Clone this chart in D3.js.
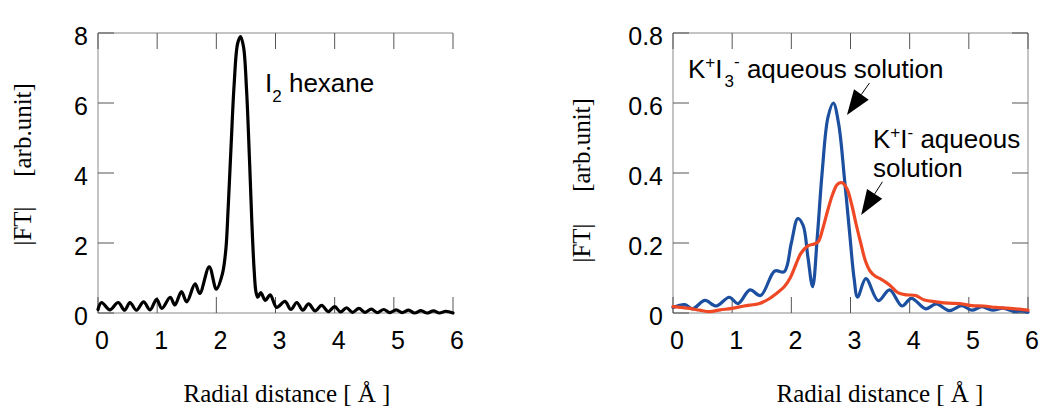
<!DOCTYPE html>
<html>
<head>
<meta charset="UTF-8">
<title>FT radial distance</title>
<style>
body { margin: 0; background: #fff; }
.frame { fill: none; stroke: #888; stroke-width: 1; }
.tick { stroke: #555; stroke-width: 1; }
.ticklabel { font-family: "Liberation Sans", Arial, sans-serif; font-size: 25px; fill: #000; }
.note { font-family: "Liberation Sans", Arial, sans-serif; font-size: 26px; fill: #000; }
.title { font-family: "Liberation Serif", "Times New Roman", serif; font-size: 25px; fill: #000; }
.curve { fill: none; stroke-width: 3.2; stroke-linejoin: round; stroke-linecap: round; }
</style>
</head>
<body>
<div id="chart"></div>
<script src="https://cdn.jsdelivr.net/npm/d3@7"></script>
<script>
// ---- data ----
var xTicks = [0, 1, 2, 3, 4, 5, 6];
var leftYTicks = [0, 2, 4, 6, 8];
var rightYTicks = [0, 0.2, 0.4, 0.6, 0.8];
var rightYTickLabels = ["0", "0.2", "0.4", "0.6", "0.8"];

// I2 in hexane
var hexaneR = [0.00, 0.06, 0.20, 0.34, 0.45, 0.54, 0.65, 0.77, 0.88, 0.99, 1.08, 1.22, 1.30, 1.41, 1.50,
  1.64, 1.72, 1.88, 2.00, 2.10, 2.16, 2.20, 2.25, 2.30, 2.36, 2.41, 2.46, 2.51, 2.56, 2.60, 2.64, 2.67, 2.70,
  2.75, 2.83, 2.91, 3.02, 3.16, 3.26, 3.36, 3.46, 3.56, 3.67, 3.78, 3.89, 4.00, 4.10, 4.20, 4.30, 4.41, 4.51,
  4.62, 4.72, 4.83, 4.93, 5.04, 5.14, 5.25, 5.35, 5.46, 5.56, 5.67, 5.77, 5.88, 6.00];
var hexaneFT = [0.10, 0.30, 0.09, 0.30, 0.08, 0.30, 0.08, 0.32, 0.09, 0.39, 0.13, 0.45, 0.23, 0.61, 0.32,
  0.83, 0.56, 1.32, 0.68, 1.10, 1.80, 3.00, 4.80, 6.50, 7.70, 7.90, 7.60, 6.40, 4.40, 2.60, 1.20, 0.60, 0.45,
  0.58, 0.36, 0.52, 0.16, 0.33, 0.10, 0.30, 0.08, 0.26, 0.06, 0.22, 0.04, 0.18, 0.03, 0.15, 0.02, 0.13, 0.02,
  0.11, 0.01, 0.10, 0.01, 0.09, 0.01, 0.08, 0.00, 0.07, 0.00, 0.06, 0.00, 0.05, 0.00];

// K+I3- aqueous solution
var triiodideR = [0.00, 0.20, 0.33, 0.54, 0.73, 0.95, 1.10, 1.30, 1.48, 1.72, 1.88, 2.00, 2.11, 2.20, 2.28,
  2.36, 2.44, 2.52, 2.62, 2.71, 2.80, 2.90, 2.99, 3.06, 3.12, 3.26, 3.47, 3.66, 3.87, 4.03, 4.27, 4.45, 4.67,
  4.88, 5.05, 5.22, 5.40, 5.58, 5.75, 5.90, 6.00];
var triiodideFT = [0.016, 0.024, 0.012, 0.036, 0.020, 0.045, 0.027, 0.066, 0.050, 0.120, 0.118, 0.200, 0.270,
  0.250, 0.160, 0.075, 0.220, 0.400, 0.560, 0.600, 0.540, 0.380, 0.220, 0.100, 0.045, 0.098, 0.035, 0.066,
  0.020, 0.042, 0.012, 0.026, 0.007, 0.021, 0.008, 0.018, 0.008, 0.014, 0.005, 0.006, 0.002];

// K+I- aqueous solution
var iodideR = [0.00, 0.28, 0.45, 0.62, 0.80, 1.00, 1.20, 1.46, 1.62, 1.75, 1.88, 1.98, 2.08, 2.16, 2.28, 2.40,
  2.46, 2.53, 2.61, 2.70, 2.78, 2.86, 2.94, 3.02, 3.10, 3.18, 3.25, 3.33, 3.42, 3.50, 3.66, 3.80, 3.95, 4.10,
  4.25, 4.45, 4.65, 4.85, 5.05, 5.25, 5.45, 5.65, 5.85, 6.00];
var iodideFT = [0.018, 0.013, 0.008, 0.004, 0.009, 0.013, 0.020, 0.027, 0.040, 0.056, 0.075, 0.100, 0.140,
  0.170, 0.192, 0.198, 0.205, 0.240, 0.290, 0.340, 0.368, 0.372, 0.355, 0.310, 0.250, 0.195, 0.150, 0.120,
  0.105, 0.098, 0.080, 0.058, 0.052, 0.050, 0.037, 0.032, 0.028, 0.027, 0.021, 0.020, 0.016, 0.014, 0.011, 0.008];

function pairs(xs, ys) { return xs.map(function (x, i) { return [x, ys[i]]; }); }

var width = 1043, height = 408;
var svg = d3.select("#chart").append("svg")
  .attr("width", width).attr("height", height);

function drawPanel(p) {
  var x = d3.scaleLinear().domain([0, 6]).range([p.left, p.left + 355]);
  var y = d3.scaleLinear().domain(p.yDomain).range([313, 33]);
  var g = svg.append("g");
  var tl = 16;
  var xa = x(0), xb = x(6), ya = y.range()[0], yb = y.range()[1];

  // frame: left, bottom, top always; right side only when asked
  var fr = "M" + xb + "," + yb + "L" + xa + "," + yb + "L" + xa + "," + ya + "L" + xb + "," + ya;
  if (p.rightFrame) fr += "Z";
  g.append("path").attr("class", "frame").attr("d", fr);

  // x ticks bottom and top (inward)
  xTicks.forEach(function (t) {
    g.append("line").attr("class", "tick")
      .attr("x1", x(t)).attr("x2", x(t)).attr("y1", ya).attr("y2", ya - tl);
    g.append("line").attr("class", "tick")
      .attr("x1", x(t)).attr("x2", x(t)).attr("y1", yb).attr("y2", yb + tl);
    g.append("text").attr("class", "ticklabel")
      .attr("x", x(t) + 4).attr("y", 349).attr("text-anchor", "middle").text(t);
  });
  // y ticks left (and right) (inward)
  p.yTicks.forEach(function (t, i) {
    g.append("line").attr("class", "tick")
      .attr("x1", xa).attr("x2", xa + tl).attr("y1", y(t)).attr("y2", y(t));
    if (p.rightFrame) {
      g.append("line").attr("class", "tick")
        .attr("x1", xb).attr("x2", xb - tl).attr("y1", y(t)).attr("y2", y(t));
    }
    g.append("text").attr("class", "ticklabel")
      .attr("x", xa - 10).attr("y", y(t) + 4).attr("dy", "0.32em")
      .attr("text-anchor", "end").text(p.yLabels[i]);
  });

  // curves
  var line = d3.line()
    .x(function (d) { return x(d[0]); })
    .y(function (d) { return y(d[1]); })
    .curve(d3.curveCatmullRom.alpha(0.5));
  p.series.forEach(function (s) {
    g.append("path").attr("class", "curve")
      .attr("stroke", s.color).attr("d", line(s.data));
  });

  // axis titles
  g.append("text").attr("class", "title")
    .attr("x", p.xTitleX).attr("y", 402).attr("text-anchor", "middle")
    .text("Radial distance [ Å ]");
  g.append("text").attr("class", "title")
    .attr("transform", "translate(" + p.yTitleX + "," + p.ftY + ") rotate(-90)")
    .attr("text-anchor", "middle").text("|FT|");
  g.append("text").attr("class", "title")
    .attr("transform", "translate(" + p.yTitleX + "," + p.arbY + ") rotate(-90)")
    .attr("text-anchor", "middle").text("[arb.unit]");

  return { x: x, y: y, g: g };
}

var left = drawPanel({
  left: 98, yDomain: [0, 8], yTicks: leftYTicks, yLabels: leftYTicks, rightFrame: false,
  series: [{ data: pairs(hexaneR, hexaneFT), color: "#000" }],
  xTitleX: 287, yTitleX: 31, ftY: 226, arbY: 130
});

var right = drawPanel({
  left: 673, yDomain: [0, 0.8], yTicks: rightYTicks, yLabels: rightYTickLabels, rightFrame: true,
  series: [
    { data: pairs(triiodideR, triiodideFT), color: "#1c4f9f" },
    { data: pairs(iodideR, iodideFT), color: "#ef4824" }
  ],
  xTitleX: 880, yTitleX: 590, ftY: 243, arbY: 145
});

// ---- annotations ----
var t1 = left.g.append("text").attr("class", "note").attr("x", 265).attr("y", 92);
t1.append("tspan").text("I");
t1.append("tspan").attr("font-size", 17).attr("dy", 10).text("2");
t1.append("tspan").attr("dy", -10).text(" hexane");

var t2 = right.g.append("text").attr("class", "note").attr("x", 688).attr("y", 78);
t2.append("tspan").text("K");
t2.append("tspan").attr("font-size", 17).attr("dy", -10).text("+");
t2.append("tspan").attr("dy", 10).text("I");
t2.append("tspan").attr("font-size", 17).attr("dy", 9).attr("dx", 2).text("3");
t2.append("tspan").attr("font-size", 17).attr("dy", -20).text("-");
t2.append("tspan").attr("dy", 11).text(" aqueous solution");

var t3 = right.g.append("text").attr("class", "note").attr("x", 873).attr("y", 148);
t3.append("tspan").text("K");
t3.append("tspan").attr("font-size", 17).attr("dy", -10).text("+");
t3.append("tspan").attr("dy", 10).text("I");
t3.append("tspan").attr("font-size", 17).attr("dy", -10).text("-");
t3.append("tspan").attr("dy", 10).text(" aqueous");
right.g.append("text").attr("class", "note").attr("x", 873).attr("y", 177).text("solution");

// arrows (tail -> tip, data units)
var arrows = [
  { from: [3.32, 0.657], to: [2.94, 0.566] },
  { from: [3.54, 0.375], to: [3.18, 0.280] }
];
arrows.forEach(function (a) {
  var x0 = right.x(a.from[0]), y0 = right.y(a.from[1]);
  var x1 = right.x(a.to[0]), y1 = right.y(a.to[1]);
  var dx = x0 - x1, dy = y0 - y1, len = Math.sqrt(dx * dx + dy * dy);
  var ux = dx / len, uy = dy / len, L = 25, W = 9;
  var bx = x1 + ux * L, by = y1 + uy * L;
  right.g.append("line").attr("x1", x0).attr("y1", y0).attr("x2", bx).attr("y2", by)
    .attr("stroke", "#000").attr("stroke-width", 1);
  right.g.append("path").attr("fill", "#000")
    .attr("d", "M" + x1 + "," + y1 + "L" + (bx - uy * W) + "," + (by + ux * W) +
      "L" + (bx + uy * W) + "," + (by - ux * W) + "Z");
});
</script>
</body>
</html>
